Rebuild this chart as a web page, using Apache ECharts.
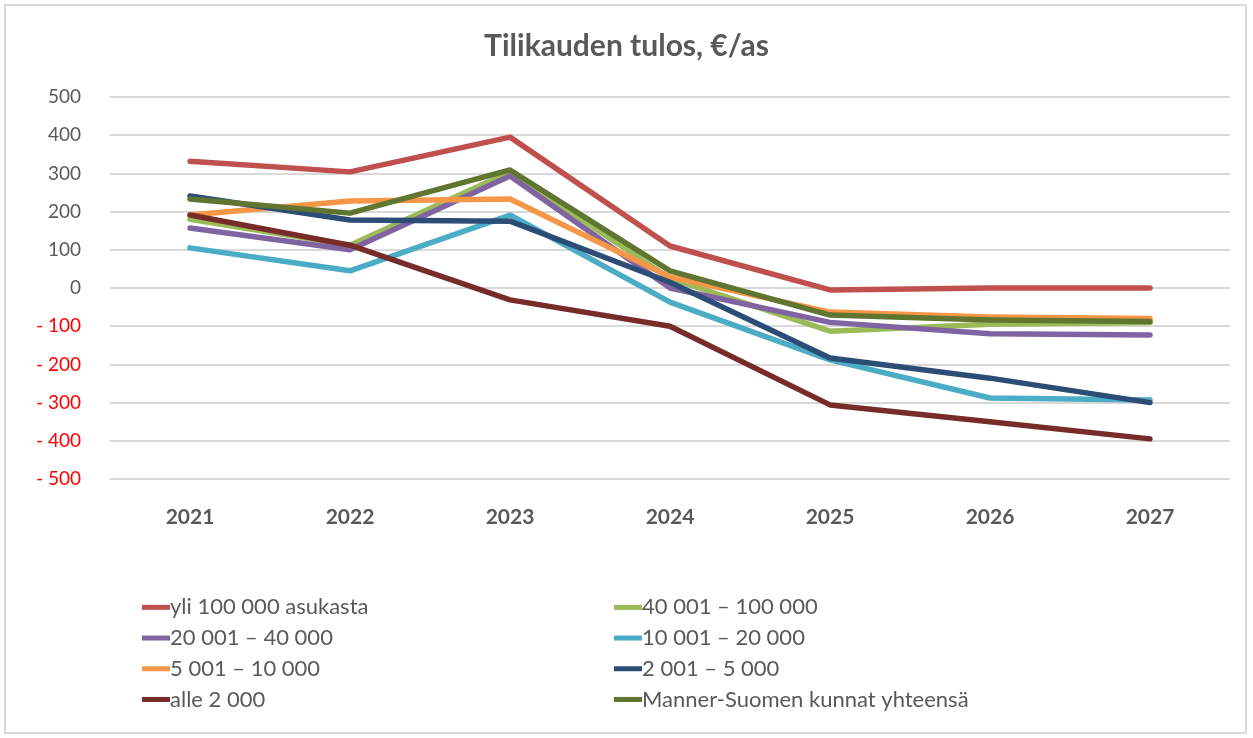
<!DOCTYPE html>
<html>
<head>
<meta charset="utf-8">
<script src="https://cdn.jsdelivr.net/npm/echarts@6/dist/echarts.min.js"></script>
<style>
  html, body { margin: 0; padding: 0; background: #fff; }
  #frame { position: absolute; left: 4px; top: 4px; width: 1243px; height: 730px; border: 2px solid #d9d9d9; box-sizing: border-box; }
  #chart { position: absolute; left: 0; top: 0; width: 1253px; height: 738px; }
</style>
</head>
<body>
<div id="frame"></div>
<div id="chart"></div>
<script>
const years = ["2021", "2022", "2023", "2024", "2025", "2026", "2027"];
const yTicks = [-500, -400, -300, -200, -100, 0, 100, 200, 300, 400, 500];

const seriesNames = [
  "yli 100 000 asukasta",
  "40 001 – 100 000",
  "20 001 – 40 000",
  "10 001 – 20 000",
  "5 001 – 10 000",
  "2 001 – 5 000",
  "alle 2 000",
  "Manner-Suomen kunnat yhteensä",
];
const yli100000 = [332, 304, 395, 110, -5, 0, 0];
const v40001 = [180, 112, 304, 25, -113, -95, -90];
const v20001 = [157, 100, 293, 0, -90, -120, -123];
const v10001 = [105, 45, 191, -37, -188, -288, -293];
const v5001 = [191, 228, 233, 29, -63, -76, -80];
const v2001 = [241, 178, 175, 15, -183, -236, -300];
const alle2000 = [191, 112, -31, -100, -306, -350, -395];
const mannerSuomi = [233, 196, 309, 45, -71, -84, -88];

const seriesValues = [yli100000, v40001, v20001, v10001, v5001, v2001, alle2000, mannerSuomi];
const seriesColors = ["#C0504D", "#9BBB59", "#8064A2", "#4BACC6", "#F79646", "#2C4D75", "#772C2A", "#5F7530"];

const chart = echarts.init(document.getElementById("chart"));

const legendCommon = {
  orient: "vertical",
  top: 587,
  itemWidth: 28,
  itemHeight: 5,
  itemGap: 0,
  icon: "rect",
  textStyle: { fontFamily: "Lato", fontSize: 22, lineHeight: 30.7, color: "#595959", padding: [0, 0, 0, -5] },
};

chart.setOption({
  animation: false,
  title: {
    text: "Tilikauden tulos, €/as",
    left: "center",
    top: 26,
    textStyle: { fontFamily: "Lato", fontSize: 30, fontWeight: "bold", color: "#595959" },
  },
  legend: [
    Object.assign({}, legendCommon, { left: 137, data: [seriesNames[0], seriesNames[2], seriesNames[4], seriesNames[6]] }),
    Object.assign({}, legendCommon, { left: 609, data: [seriesNames[1], seriesNames[3], seriesNames[5], seriesNames[7]] }),
  ],
  grid: { left: 110, right: 23, top: 97, bottom: 259 },
  xAxis: {
    type: "category",
    data: years,
    boundaryGap: true,
    axisLine: { show: false },
    axisTick: { show: false },
    axisLabel: { margin: 28, fontFamily: "Lato", fontSize: 21, fontWeight: "bold", color: "#595959" },
  },
  yAxis: {
    type: "value",
    min: yTicks[0],
    max: yTicks[yTicks.length - 1],
    interval: 100,
    axisLine: { show: false },
    axisTick: { show: false },
    splitLine: { lineStyle: { color: "#d9d9d9", width: 2 } },
    axisLabel: {
      margin: 29,
      fontFamily: "Lato",
      fontSize: 19,
      formatter: (v) => (v < 0 ? "- " + Math.abs(v) : String(v)),
      color: (v) => (Number(v) < 0 ? "#ff0000" : "#595959"),
    },
  },
  series: seriesNames.map((name, i) => ({
    name,
    type: "line",
    data: seriesValues[i],
    symbol: "none",
    color: seriesColors[i],
    lineStyle: { width: 5.5, color: seriesColors[i], cap: "round", join: "round" },
  })),
});
</script>
</body>
</html>
